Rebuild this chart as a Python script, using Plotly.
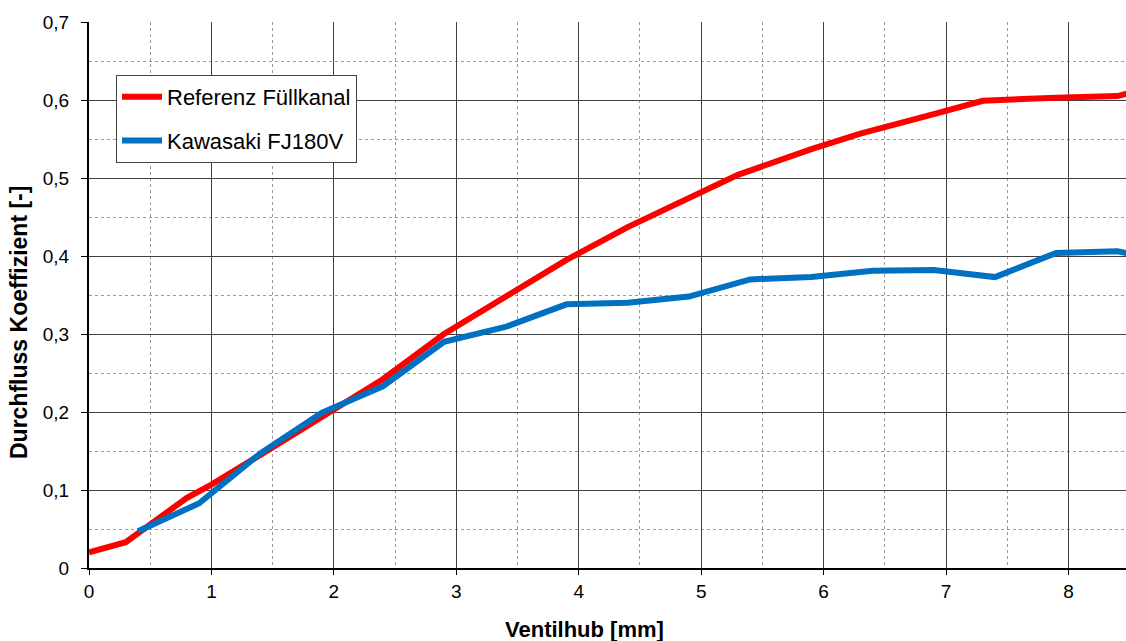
import plotly.graph_objects as go

# Data
ref_x = [0.0, 0.3, 0.8, 1.0, 1.4, 1.9, 2.4, 2.9, 3.4, 3.9, 4.4, 4.9, 5.3, 5.9, 6.3, 6.9, 7.3, 7.9, 8.4, 8.5]
ref_y = [0.020, 0.033, 0.090, 0.107, 0.145, 0.193, 0.242, 0.300, 0.347, 0.395, 0.437, 0.474, 0.504, 0.537, 0.557, 0.582, 0.599, 0.603, 0.605, 0.609]

kaw_x = [0.4, 0.9, 1.4, 1.9, 2.4, 2.9, 3.4, 3.9, 4.4, 4.9, 5.4, 5.9, 6.4, 6.9, 7.4, 7.9, 8.4, 8.5]
kaw_y = [0.047, 0.083, 0.147, 0.199, 0.233, 0.290, 0.309, 0.338, 0.340, 0.348, 0.370, 0.373, 0.381, 0.382, 0.373, 0.404, 0.406, 0.403]

series_names = ["Referenz Füllkanal", "Kawasaki FJ180V"]
series_colors = ["#FF0000", "#0070C0"]

x_ticks = [0, 1, 2, 3, 4, 5, 6, 7, 8]
x_ticklabels = ["0", "1", "2", "3", "4", "5", "6", "7", "8"]
y_ticks = [0, 0.1, 0.2, 0.3, 0.4, 0.5, 0.6, 0.7]
y_ticklabels = ["0", "0,1", "0,2", "0,3", "0,4", "0,5", "0,6", "0,7"]

x_title = "Ventilhub [mm]"
y_title = "Durchfluss Koeffizient [-]"

FONT = "Liberation Sans, Arial, sans-serif"

W, H = 1126, 641
PL, PT, PB = 89, 22, 568  # plot area edges in pixels
plot_w = W - PL
plot_h = PB - PT

fig = go.Figure()
for i, (xs, ys) in enumerate([(ref_x, ref_y), (kaw_x, kaw_y)]):
    fig.add_trace(go.Scatter(
        x=xs, y=ys, mode="lines", name=series_names[i],
        line=dict(color=series_colors[i], width=6),
        legendgroup=f"g{i}",
    ))

axis_common = dict(
    showline=True, linecolor="#000000", linewidth=2,
    gridcolor="#404040", gridwidth=1,
    ticks="outside", tickcolor="#000000", tickwidth=1,
    tickfont=dict(family=FONT, size=19, color="#000000"),
    zeroline=False,
)

fig.update_xaxes(
    range=[0, 8.47], tickvals=x_ticks, ticktext=x_ticklabels, ticklen=5,
    minor=dict(dtick=0.5, showgrid=True, griddash="dot", gridcolor="#9a9a9a", gridwidth=1, ticks=""),
    **axis_common,
)
fig.update_yaxes(
    range=[0, 0.7], tickvals=y_ticks, ticktext=y_ticklabels, ticklen=6,
    ticklabelstandoff=8,
    minor=dict(dtick=0.05, showgrid=True, griddash="dot", gridcolor="#9a9a9a", gridwidth=1, ticks=""),
    **axis_common,
)

fig.add_annotation(
    text=f"<b>{x_title}</b>", xref="paper", yref="paper",
    x=(584 - PL) / plot_w, y=(PB - 629) / plot_h, xanchor="center", yanchor="middle",
    showarrow=False, font=dict(family=FONT, size=22, color="#000000"),
)
fig.add_annotation(
    text=f"<b>{y_title}</b>", xref="paper", yref="paper",
    x=(19 - PL) / plot_w, y=(PB - 323) / plot_h, xanchor="center", yanchor="middle",
    textangle=-90, showarrow=False, font=dict(family=FONT, size=23, color="#000000"),
)

fig.update_layout(
    width=W, height=H,
    margin=dict(l=PL, r=0, t=PT, b=H - PB, pad=0),
    paper_bgcolor="#FFFFFF", plot_bgcolor="#FFFFFF",
    font=dict(family=FONT, color="#000000"),
    showlegend=True,
    legend=dict(
        x=(116 - PL) / plot_w, y=(PB - 75) / plot_h, xanchor="left", yanchor="top",
        bgcolor="#FFFFFF", bordercolor="#444444", borderwidth=1,
        font=dict(family=FONT, size=22, color="#000000"),
        traceorder="grouped", tracegroupgap=12, itemwidth=40,
    ),
)

# remove the default page margin so the figure fills the window exactly
fig.write_html(
    "out.html",
    config={"displayModeBar": False},
    post_script="document.body.style.margin='0';document.body.style.overflow='hidden';",
)
